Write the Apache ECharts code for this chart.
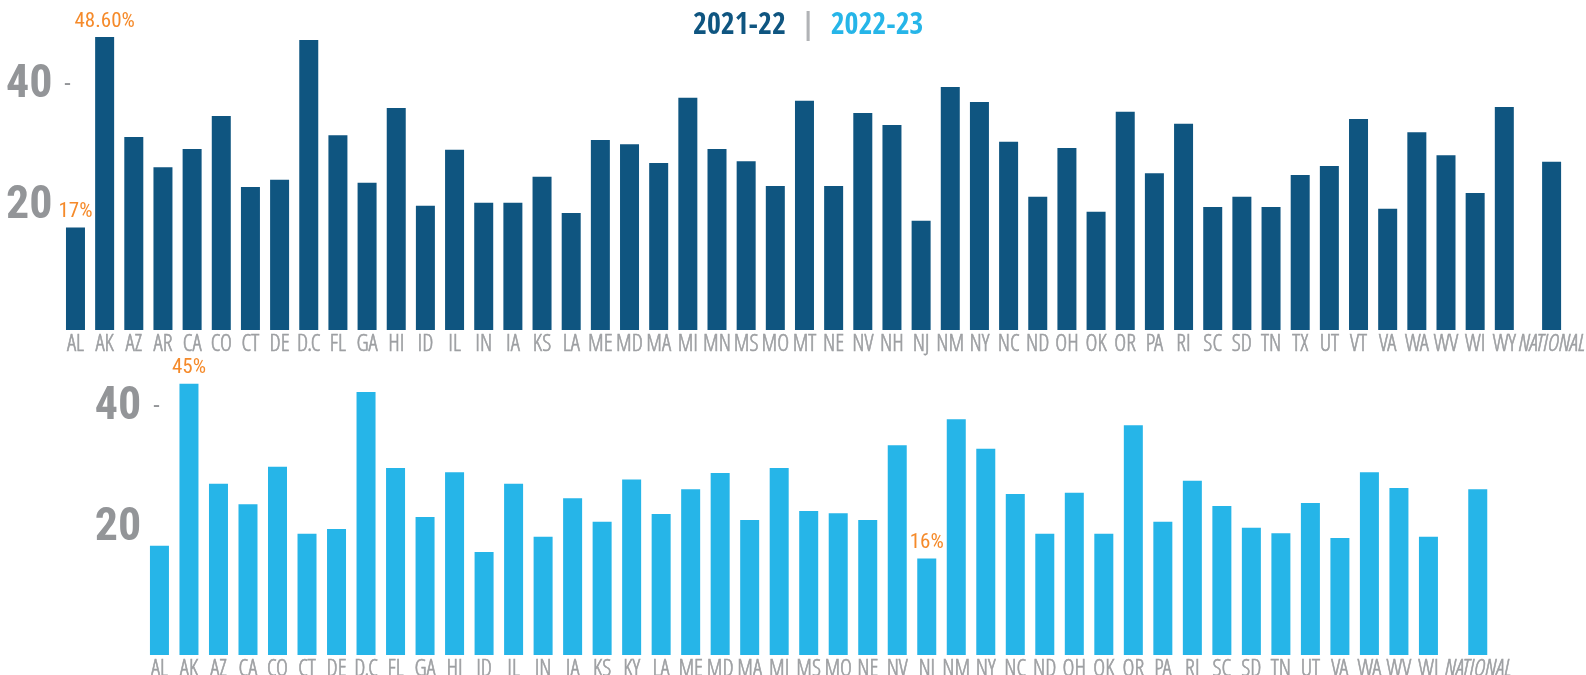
<!DOCTYPE html>
<html>
<head>
<meta charset="utf-8">
<script src="https://cdn.jsdelivr.net/npm/echarts@6/dist/echarts.min.js"></script>
<style>
html,body{margin:0;padding:0;background:#fff;}
#chart{width:1586px;height:675px;}
</style>
</head>
<body>
<div id="chart"></div>
<script>
// 2021-22 (top chart)
var states2122 = ['AL','AK','AZ','AR','CA','CO','CT','DE','D.C','FL','GA','HI','ID','IL','IN','IA','KS','LA','ME','MD',
  'MA','MI','MN','MS','MO','MT','NE','NV','NH','NJ','NM','NY','NC','ND','OH','OK','OR','PA','RI','SC',
  'SD','TN','TX','UT','VT','VA','WA','WV','WI','WY'];
var rates2122 = [17,48.6,32.0,27.0,30.0,35.5,23.7,24.9,48.1,32.3,24.4,36.8,20.6,29.9,21.1,21.1,25.4,19.4,31.5,30.8,
  27.7,38.5,30.0,28.0,23.9,38.0,23.9,36.0,34.0,18.1,40.3,37.8,31.2,22.1,30.2,19.6,36.2,26.0,34.2,20.4,
  22.1,20.4,25.7,27.2,35.0,20.1,32.8,29.0,22.7,37.0];
var national2122 = 27.9;
var notes2122 = {'AL':'17%','AK':'48.60%'};

// 2022-23 (bottom chart)
var states2223 = ['AL','AK','AZ','CA','CO','CT','DE','D.C','FL','GA','HI','ID','IL','IN','IA','KS','KY','LA','ME','MD',
  'MA','MI','MS','MO','NE','NV','NJ','NM','NY','NC','ND','OH','OK','OR','PA','RI','SC','SD','TN','UT',
  'VA','WA','WV','WI'];
var rates2223 = [18.1,45,28.4,25.0,31.2,20.1,20.9,43.6,31.0,22.9,30.3,17.1,28.4,19.6,26.0,22.1,29.1,23.4,27.5,30.2,
  22.4,31.0,23.9,23.5,22.4,34.8,16,39.1,34.2,26.7,20.1,26.9,20.1,38.1,22.1,28.9,24.7,21.1,20.2,25.2,
  19.4,30.3,27.7,19.6];
var national2223 = 27.5;
var notes2223 = {'AK':'45%','NJ':'16%'};

var yTicks = [20, 40];

var dark = '#0f5580', light = '#26b5e8', grey = '#939598', orange = '#f58a2a';
var boldCond = "'Open Sans Condensed','Roboto Condensed','DejaVu Sans Condensed',sans-serif";
var lightCond = "'Open Sans Condensed Light','Roboto Condensed','DejaVu Sans Condensed',sans-serif";
var regCond = "'Roboto Condensed','DejaVu Sans Condensed',sans-serif";

function barData(names, vals, notes) {
    return vals.map(function (v, i) {
        var n = notes[names[i]];
        if (!n) return v;
        return {value: v, label: {show: true, position: 'top', distance: 5, formatter: n,
            color: orange, fontSize: 21, fontFamily: regCond}};
    });
}

function xAx(grid, cats, italic) {
    return {
        type: 'category', gridIndex: grid, data: cats,
        axisLine: {show: false}, axisTick: {show: false},
        axisLabel: {interval: 0, margin: 3, color: '#9d9fa2', fontSize: 23, fontWeight: 300,
            textBorderColor: '#9d9fa2', textBorderWidth: 0.6,
            fontFamily: lightCond, fontStyle: italic ? 'italic' : 'normal'}
    };
}

function yAx(grid, showLabels, margin, shift) {
    return {
        type: 'value', gridIndex: grid, min: 0, max: 50, interval: 20,
        splitLine: {show: false}, axisLine: {show: false}, axisTick: {show: false},
        axisLabel: {
            show: showLabels, align: 'left', margin: margin, padding: [0, 0, shift, 0],
            formatter: function (v) {
                if (yTicks.indexOf(v) < 0) return '';
                return v === 40 ? '{a|' + v + '}{b|  -}' : '{a|' + v + '}';
            },
            rich: {
                a: {fontSize: 46, fontWeight: 'bold', color: grey, fontFamily: regCond},
                b: {fontSize: 26, color: grey, fontFamily: regCond}
            }
        }
    };
}

var chart = echarts.init(document.getElementById('chart'));
chart.setOption({
    animation: false,
    backgroundColor: '#fff',
    title: {
        text: '{a|2021-22}{s|  |  }{b|2022-23}',
        left: 688, top: 6,
        textStyle: {
            rich: {
                a: {fontSize: 30, fontWeight: 'bold', color: dark, fontFamily: boldCond},
                s: {fontSize: 30, fontWeight: 'bold', color: '#b1b3b6', fontFamily: boldCond},
                b: {fontSize: 30, fontWeight: 'bold', color: light, fontFamily: boldCond}
            }
        }
    },
    grid: [
        {left: 60.9, width: 1458, top: 28.5, height: 301.5, outerBoundsMode: 'none'},
        {left: 1537, width: 29.2, top: 28.5, height: 301.5, outerBoundsMode: 'none'},
        {left: 144.7, width: 1298.5, top: 353.5, height: 301.5, outerBoundsMode: 'none'},
        {left: 1463, width: 29.5, top: 353.5, height: 301.5, outerBoundsMode: 'none'}
    ],
    xAxis: [
        xAx(0, states2122), xAx(1, ['NATIONAL'], true),
        xAx(2, states2223), xAx(3, ['NATIONAL'], true)
    ],
    yAxis: [
        yAx(0, true, 55, 6), yAx(1, false, 0, 0),
        yAx(2, true, 50, 12), yAx(3, false, 0, 0)
    ],
    series: [
        {type: 'bar', xAxisIndex: 0, yAxisIndex: 0, barWidth: 19, itemStyle: {color: dark},
            data: barData(states2122, rates2122, notes2122)},
        {type: 'bar', xAxisIndex: 1, yAxisIndex: 1, barWidth: 19, itemStyle: {color: dark},
            data: [national2122]},
        {type: 'bar', xAxisIndex: 2, yAxisIndex: 2, barWidth: 19, itemStyle: {color: light},
            data: barData(states2223, rates2223, notes2223)},
        {type: 'bar', xAxisIndex: 3, yAxisIndex: 3, barWidth: 19, itemStyle: {color: light},
            data: [national2223]}
    ]
});
</script>
</body>
</html>
